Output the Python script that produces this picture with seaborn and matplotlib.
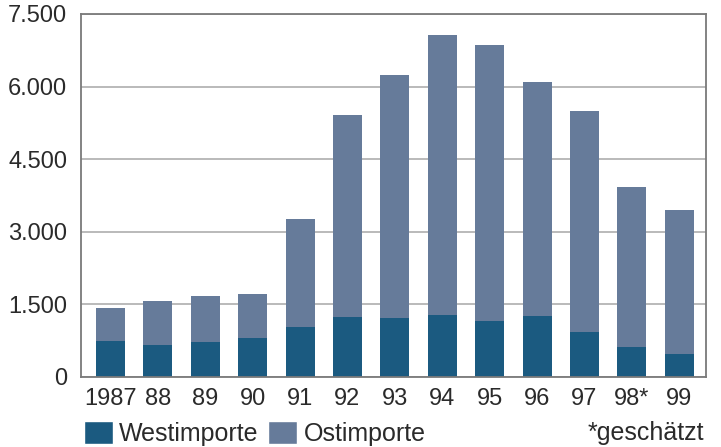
import matplotlib
matplotlib.use("Agg")
import matplotlib.pyplot as plt
import seaborn as sns
from matplotlib.patches import Patch
from matplotlib.ticker import FuncFormatter

# data
years = ["1987", "88", "89", "90", "91", "92", "93", "94", "95", "96", "97", "98*", "99"]
west = [745, 660, 725, 805, 1035, 1240, 1220, 1280, 1155, 1260, 930, 620, 475]
ost = [685, 910, 950, 910, 2230, 4170, 5020, 5785, 5705, 4835, 4565, 3305, 2975]
total = [w + o for w, o in zip(west, ost)]

c_west = "#1b5a80"
c_ost = "#667b9a"

sns.set_style("white")
plt.rcParams["font.family"] = ["Liberation Sans", "DejaVu Sans"]

fig = plt.figure(figsize=(7.21, 4.47), dpi=100)
ax = fig.add_axes([0.1123, 0.1566, 0.8668, 0.8121])

ax.yaxis.grid(True, color="#b4b4b4", linewidth=1.3)
ax.set_axisbelow(True)

sns.barplot(x=years, y=total, color=c_ost, width=0.61, saturation=1, linewidth=0, ax=ax)
sns.barplot(x=years, y=west, color=c_west, width=0.61, saturation=1, linewidth=0, ax=ax)

ax.set_xlim(-0.622, 12.563)
ax.set_ylim(0, 7500)
ax.set_yticks([0, 1500, 3000, 4500, 6000, 7500])
ax.yaxis.set_major_formatter(FuncFormatter(lambda v, p: f"{int(v):,}".replace(",", ".")))
ax.tick_params(axis="both", length=0, labelsize=17, colors="#2a2a2a")
ax.tick_params(axis="y", pad=10)
ax.tick_params(axis="x", pad=8)
for s in ax.spines.values():
    s.set_color("#7a7a7a")
    s.set_linewidth(1.3)
ax.set_xlabel("")
ax.set_ylabel("")

handles = [Patch(facecolor=c_west, label="Westimporte"),
           Patch(facecolor=c_ost, label="Ostimporte")]
fig.legend(handles=handles, loc="lower left", bbox_to_anchor=(0.1165, 0.002),
           ncol=2, frameon=False, fontsize=18, handlelength=1.15, handleheight=1.0,
           handletextpad=0.25, columnspacing=0.4, borderpad=0, borderaxespad=0,
           labelcolor="#2a2a2a")
fig.text(0.9765, 0.016, "*geschätzt", ha="right", va="baseline", fontsize=18, color="#2a2a2a")

fig.savefig("out.png", dpi=100)
